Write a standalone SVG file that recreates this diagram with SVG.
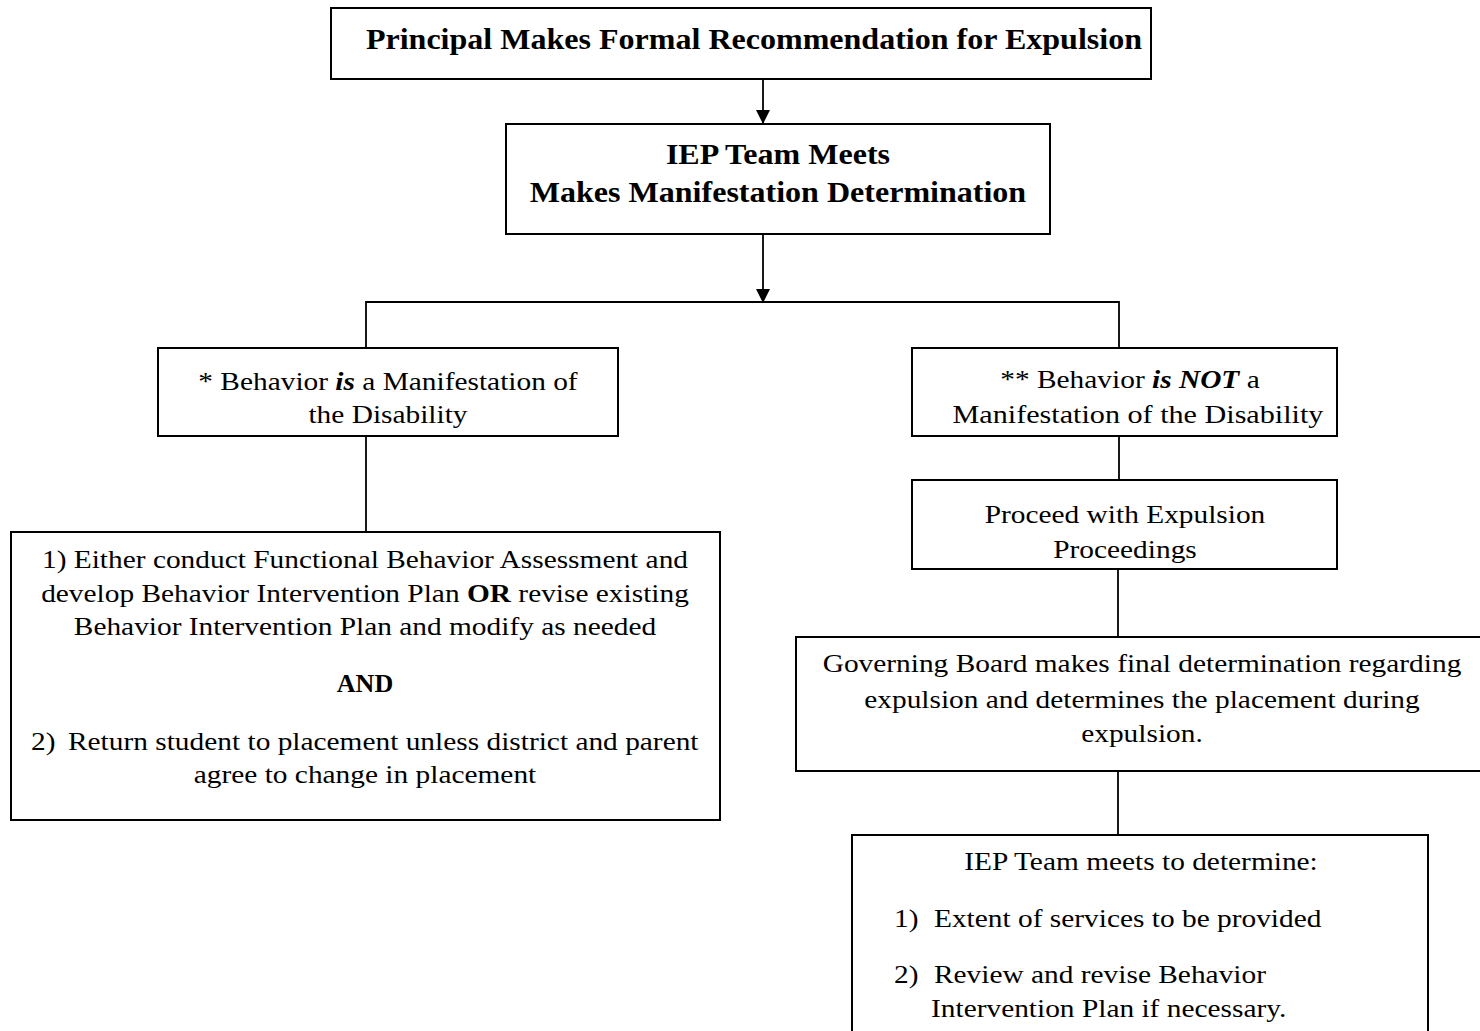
<svg xmlns="http://www.w3.org/2000/svg" width="1480" height="1031" viewBox="0 0 1480 1031">
<style>
.box{fill:#fff;stroke:#000;stroke-width:2}
.t{font-family:"Liberation Serif","Times New Roman",serif;font-size:26px;fill:#000;text-anchor:middle}
.h{font-family:"Liberation Serif","Times New Roman",serif;font-size:29px;font-weight:bold;fill:#000;text-anchor:middle}
.b{font-weight:bold}
.st{font-family:"Liberation Serif","Times New Roman",serif;font-size:26px;fill:#000}
.c{fill:none;stroke:#000;stroke-width:1.8}
</style>
<defs>
<marker id="arr" markerWidth="14" markerHeight="14" refX="14" refY="7" orient="auto" markerUnits="userSpaceOnUse" viewBox="0 0 14 14">
<path d="M0,0 L14,7 L0,14 Z" fill="#000"/>
</marker>
<clipPath id="clipL" clipPathUnits="userSpaceOnUse"><rect x="0" y="340" width="2000" height="88"/></clipPath>
</defs>
<g id="connectors">
<line class="c" x1="763" y1="79" x2="763" y2="124" marker-end="url(#arr)"/>
<line class="c" x1="763" y1="234" x2="763" y2="303" marker-end="url(#arr)"/>
<polyline class="c" points="366,348 366,302 1119,302 1119,348"/>
<line class="c" x1="366" y1="436" x2="366" y2="532"/>
<line class="c" x1="1119" y1="436" x2="1119" y2="480"/>
<line class="c" x1="1118" y1="569" x2="1118" y2="637"/>
<line class="c" x1="1118" y1="771" x2="1118" y2="835"/>
</g>
<g id="n1">
<rect class="box" x="331" y="8" width="820" height="71"/>
<text class="h" x="754" y="49" transform="matrix(1.105 0 0 1 -79.2 0)">Principal Makes Formal Recommendation for Expulsion</text>
</g>
<g id="n2">
<rect class="box" x="506" y="124" width="544" height="110"/>
<text class="h" x="778" y="164" transform="matrix(1.105 0 0 1 -81.7 0)">IEP Team Meets</text>
<text class="h" x="778" y="202" transform="matrix(1.105 0 0 1 -81.7 0)">Makes Manifestation Determination</text>
</g>
<g id="n3">
<rect class="box" x="158" y="348" width="460" height="88"/>
<text class="t" x="388" y="390" transform="matrix(1.13 0 0 1 -50.44 0)">* Behavior <tspan font-weight="bold" font-style="italic">is</tspan> a Manifestation of</text>
<text class="t" x="388" y="423" clip-path="url(#clipL)" transform="matrix(1.13 0 0 1 -50.44 0)">the Disability</text>
</g>
<g id="n4">
<rect class="box" x="912" y="348" width="425" height="88"/>
<text class="t" x="1130" y="388" transform="matrix(1.13 0 0 1 -146.9 0)">** Behavior <tspan font-weight="bold" font-style="italic">is NOT</tspan> a</text>
<text class="t" x="1138" y="423" clip-path="url(#clipL)" transform="matrix(1.16 0 0 1 -182.1 0)">Manifestation of the Disability</text>
</g>
<g id="n5">
<rect class="box" x="11" y="532" width="709" height="288"/>
<text class="t" x="365" y="568" transform="matrix(1.13 0 0 1 -47.45 0)">1) Either conduct Functional Behavior Assessment and</text>
<text class="t" x="365" y="602" transform="matrix(1.13 0 0 1 -47.45 0)">develop Behavior Intervention Plan <tspan font-weight="bold">OR</tspan> revise existing</text>
<text class="t" x="365" y="635" transform="matrix(1.13 0 0 1 -47.45 0)">Behavior Intervention Plan and modify as needed</text>
<text class="t b" x="365" y="692">AND</text>
<text class="st" x="31" y="750" transform="matrix(1.13 0 0 1 -4.03 0)">2)</text>
<text class="st" x="68" y="750" transform="matrix(1.13 0 0 1 -8.84 0)">Return student to placement unless district and parent</text>
<text class="t" x="365" y="783" transform="matrix(1.13 0 0 1 -47.45 0)">agree to change in placement</text>
</g>
<g id="n6">
<rect class="box" x="912" y="480" width="425" height="89"/>
<text class="t" x="1125" y="523" transform="matrix(1.13 0 0 1 -146.25 0)">Proceed with Expulsion</text>
<text class="t" x="1125" y="558" transform="matrix(1.13 0 0 1 -146.25 0)">Proceedings</text>
</g>
<g id="n7">
<rect class="box" x="796" y="637" width="700" height="134"/>
<text class="t" x="1142" y="672" transform="matrix(1.13 0 0 1 -148.46 0)">Governing Board makes final determination regarding</text>
<text class="t" x="1142" y="708" transform="matrix(1.13 0 0 1 -148.46 0)">expulsion and determines the placement during</text>
<text class="t" x="1142" y="742" transform="matrix(1.13 0 0 1 -148.46 0)">expulsion.</text>
</g>
<g id="n8">
<rect class="box" x="852" y="835" width="576" height="210"/>
<text class="t" x="1141" y="870" transform="matrix(1.13 0 0 1 -148.33 0)">IEP Team meets to determine:</text>
<text class="st" x="894" y="927" transform="matrix(1.13 0 0 1 -116.22 0)">1)</text>
<text class="st" x="934" y="927" transform="matrix(1.13 0 0 1 -121.42 0)">Extent of services to be provided</text>
<text class="st" x="894" y="983" transform="matrix(1.13 0 0 1 -116.22 0)">2)</text>
<text class="st" x="934" y="983" transform="matrix(1.13 0 0 1 -121.42 0)">Review and revise Behavior</text>
<text class="st" x="931" y="1017" transform="matrix(1.13 0 0 1 -121.03 0)">Intervention Plan if necessary.</text>
</g>
</svg>
